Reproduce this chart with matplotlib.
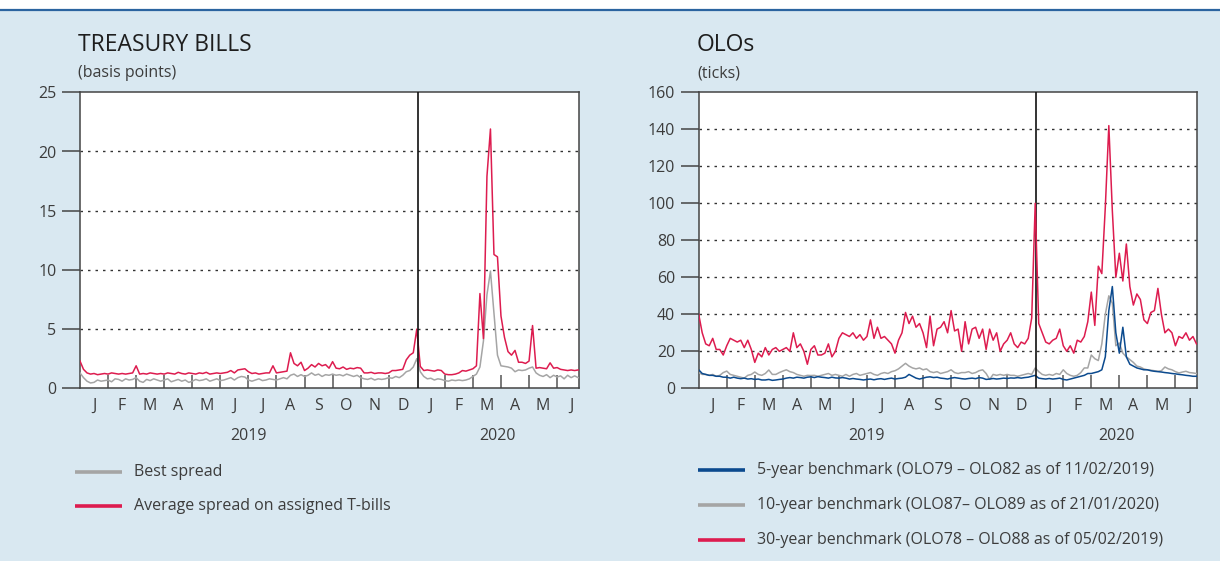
import numpy as np
import matplotlib
matplotlib.use("Agg")
import matplotlib.pyplot as plt
from matplotlib.lines import Line2D
from matplotlib.patches import Rectangle

plt.rcParams['font.family'] = ['Open Sans', 'DejaVu Sans']

# ---------------- data (one value every 1/8 month from Jan 2019) ----------------
STEP = 1 / 8  # months per sample

tbill_best = [
    1.3, 0.9, 0.6, 0.45, 0.5, 0.7, 0.6, 0.65,
    0.7, 0.55, 0.8, 0.75, 0.6, 0.8, 0.7, 0.75,
    0.9, 0.6, 0.5, 0.75, 0.65, 0.8, 0.7, 0.6,
    0.7, 0.8, 0.55, 0.65, 0.75, 0.6, 0.7, 0.5,
    0.6, 0.75, 0.65, 0.7, 0.8, 0.6, 0.7, 0.8,
    0.65, 0.7, 0.8, 0.9, 0.7, 0.9, 1.0, 0.95,
    0.7, 0.6, 0.7, 0.8, 0.65, 0.7, 0.8, 0.75,
    0.7, 0.8, 0.9, 0.8, 1.1, 1.2, 1.0, 1.15,
    1.0, 1.1, 1.3, 1.1, 1.2, 1.0, 1.15, 1.1,
    1.2, 1.1, 1.15, 1.05, 1.2, 1.1, 1.0, 1.1,
    0.9, 0.8, 0.75, 0.85, 0.7, 0.8, 0.75, 0.8,
    0.9, 0.85, 1.0, 0.9, 1.1, 1.4, 1.5, 1.8,
    2.5, 1.4, 1.0, 0.8, 0.85, 0.7, 0.8, 0.75,
    0.65, 0.6, 0.7, 0.65, 0.7, 0.65, 0.7, 0.8,
    1.0, 1.2, 1.8, 4.0, 7.9, 9.9, 6.3, 2.8,
    1.9, 1.85, 1.8, 1.7, 1.4, 1.55, 1.5, 1.55,
    1.7, 1.8, 1.3, 1.1, 1.0, 1.15, 0.9, 1.1,
    0.95, 1.05, 0.8, 1.1, 0.9, 1.05, 0.9,
]

tbill_avg = [
    2.3, 1.6, 1.3, 1.2, 1.25, 1.15, 1.2, 1.25,
    1.2, 1.3, 1.25, 1.2, 1.25, 1.2, 1.25, 1.3,
    1.9, 1.2, 1.25, 1.2, 1.3, 1.25, 1.2, 1.25,
    1.2, 1.3, 1.25, 1.2, 1.35, 1.25, 1.2, 1.3,
    1.25, 1.2, 1.3, 1.25, 1.35, 1.2, 1.25, 1.3,
    1.25, 1.3, 1.35, 1.5, 1.3, 1.55, 1.6, 1.65,
    1.4, 1.25, 1.3, 1.2, 1.25, 1.3, 1.3, 1.9,
    1.3, 1.35, 1.4, 1.45, 3.0, 2.1, 1.9, 2.2,
    1.5, 1.7, 2.0, 1.8, 2.1, 1.9, 2.0, 1.7,
    2.25, 1.7, 1.65, 1.8, 1.6, 1.7, 1.65, 1.75,
    1.7, 1.3, 1.3, 1.35, 1.25, 1.3, 1.3, 1.25,
    1.3, 1.5, 1.5, 1.55, 1.6, 2.4, 2.8, 3.0,
    5.0, 1.85, 1.5, 1.55, 1.5, 1.45, 1.55, 1.5,
    1.2, 1.15, 1.15, 1.2, 1.3, 1.5, 1.45, 1.55,
    1.65, 1.9, 8.0, 4.2, 17.9, 21.9, 11.3, 11.1,
    6.1, 4.3, 3.1, 2.8, 3.2, 2.2, 2.2, 2.1,
    2.3, 5.3, 1.7, 1.75, 1.7, 1.65, 2.15, 1.7,
    1.75, 1.6, 1.55, 1.5, 1.55, 1.5, 1.55,
]

olo_5y = [
    10, 8, 7.5, 7, 7, 6.5, 6.5, 6,
    6, 5.5, 6, 5.5, 5.2, 5.5, 5, 5.2,
    4.8, 5, 4.5, 4.5, 4.8, 4.3, 4.5, 4.8,
    5, 5.5, 5.8, 5.5, 6, 5.8, 5.5, 6,
    6.2, 5.8, 6.3, 6, 5.8, 5.5, 6, 5.6,
    5.5, 5.8, 5.5, 5, 5.3, 5, 4.8, 4.5,
    4.8, 5, 4.6, 5, 5.2, 4.8, 5.2, 5.5,
    5, 5.3, 5.5, 6, 7.5, 6.5, 5.5, 5,
    5.5, 6, 6.2, 5.8, 6, 5.5, 5.3, 5,
    5.5, 5.8, 5.5, 5.2, 5, 5.3, 5.5, 5.2,
    5.8, 5.5, 4.8, 5, 5.3, 5, 5.2, 5.5,
    5.3, 5.6, 5.5, 5.8, 5.5, 5.8, 6, 6.5,
    7, 5.5, 5.2, 5, 5.3, 5, 5.2, 5.5,
    4.8, 4.5, 5, 5.5, 6, 6.5, 7, 8,
    8, 8.5, 9, 10, 17, 42, 55, 30,
    19, 33, 17, 13, 12, 11, 10.5, 10,
    10, 9.5, 9.2, 9, 8.8, 8.5, 8.3, 8,
    7.8, 7.5, 7.3, 7, 6.8, 6.5, 6.5,
]

olo_10y = [
    8.5, 7.5, 7.5, 7, 7.5, 6.5, 7, 8.5,
    9.3, 7.5, 7, 6.5, 6, 5.5, 7, 7.5,
    8.8, 7.5, 7, 8, 9.9, 7.5, 7.5, 8.5,
    9.3, 10, 9, 8.5, 7.5, 7, 6.5, 7,
    6.9, 7, 6.5, 7, 7.5, 8, 7, 7.5,
    7, 6.5, 7.5, 6.5, 7.5, 8, 7, 7.5,
    8, 8.5, 7.5, 7, 8, 8.5, 8, 9,
    9.5, 10.5, 12, 13.5, 12, 11, 10.5, 11,
    10, 10.5, 9, 8.5, 9, 8, 8.5, 9,
    10, 8.5, 8, 8.5, 8.5, 9, 8, 8.5,
    9.5, 10, 8, 4.8, 7.5, 7, 7.5, 7,
    7.5, 7, 7, 6.5, 7, 7.5, 8, 7.5,
    11, 9, 7.5, 7, 7.5, 7, 8, 7.5,
    10, 8, 7, 6.5, 7, 8.5, 11, 11,
    18, 16, 15, 24, 40, 50, 46, 23,
    24.5, 19, 17, 15.5, 14, 12, 11.5, 10.5,
    10, 9.8, 9.5, 9.2, 9.5, 11.5, 10.5, 10,
    9, 8.3, 8.8, 9.2, 8.5, 8.3, 8,
]

olo_30y = [
    40, 30, 24, 23, 27, 21, 21, 18,
    23, 27, 26, 25, 26, 22, 26, 21,
    14, 19, 17, 22, 18, 21, 22, 20,
    21, 22, 20, 30, 22, 24, 20, 13,
    21, 23, 18, 18, 19, 24, 17, 20,
    27, 30, 29, 28, 30, 27, 29, 26,
    28, 37, 27, 33, 27, 28, 26, 24,
    19, 26, 30, 41, 35, 39, 33, 35,
    30, 22, 39, 23, 32, 33, 36, 30,
    42, 31, 32, 20, 36, 24, 32, 33,
    27, 32, 21, 32, 26, 30, 20, 24,
    26, 30, 24, 22, 25, 24, 27, 38,
    100, 35, 30, 25, 24, 26, 27, 32,
    23, 20, 23, 19, 26, 25, 28, 36,
    52, 34, 66, 62, 98, 142, 96, 60,
    73, 58, 78, 55, 45, 51, 48, 37,
    35, 41, 42, 54, 40, 30, 32, 30,
    23, 28, 27, 30, 26, 28, 24,
]

month_labels = ["J", "F", "M", "A", "M", "J", "J", "A", "S", "O", "N", "D",
                "J", "F", "M", "A", "M", "J"]
year_labels = ["2019", "2020"]

left_title = "TREASURY BILLS"
left_unit = "(basis points)"
left_yticks = [0, 5, 10, 15, 20, 25]
left_names = ["Best spread", "Average spread on assigned T-bills"]

right_title = "OLOs"
right_unit = "(ticks)"
right_yticks = [0, 20, 40, 60, 80, 100, 120, 140, 160]
right_names = ["5-year benchmark (OLO79 \u2013 OLO82 as of 11/02/2019)",
               "10-year benchmark (OLO87\u2013 OLO89 as of 21/01/2020)",
               "30-year benchmark (OLO78 \u2013 OLO88 as of 05/02/2019)"]

# ---------------- styling ----------------
BG = "#d9e8f1"
RED = "#dd1c4f"
GRAY = "#a5a5a5"
BLUE = "#0b4a8e"
TXT = "#3c3c3c"
SPINE = "#444444"
W, H = 1220, 561
FS = 11.5

fig = plt.figure(figsize=(W / 100, H / 100), dpi=100)
fig.patch.set_facecolor("white")
fig.add_artist(Rectangle((0, 0), 1, 1 - 11 / H, transform=fig.transFigure,
                         facecolor=BG, edgecolor="none", zorder=-10))
fig.add_artist(Line2D([0, 1], [1 - 10 / H, 1 - 10 / H], transform=fig.transFigure,
                      color="#2b64a0", lw=1.6))

XMAX = 17.78


def px_box(x0, y0, x1, y1):
    return [x0 / W, 1 - y1 / H, (x1 - x0) / W, (y1 - y0) / H]


def style_axis(ax, yticks, ymax):
    ax.set_xlim(0, XMAX)
    ax.set_ylim(0, ymax)
    ax.set_facecolor("white")
    for s in ax.spines.values():
        s.set_color(SPINE)
        s.set_linewidth(1.1)
    # month boundary ticks (inside), skip the year boundary
    bounds = [m for m in range(1, 18) if m != 12]
    ax.set_xticks(bounds)
    ax.set_xticklabels([])
    ax.tick_params(axis="x", which="major", direction="in", length=9.5,
                   width=1.1, color="#555555")
    ax.set_xticks([m + 0.5 for m in range(len(month_labels))], minor=True)
    ax.set_xticklabels(month_labels, minor=True)
    ax.tick_params(axis="x", which="minor", length=0, pad=7, labelsize=FS,
                   labelcolor=TXT)
    ax.set_yticks(yticks)
    ax.set_yticklabels([str(v) for v in yticks])
    ax.tick_params(axis="y", direction="out", length=13, width=1.1,
                   color=SPINE, pad=4, labelsize=FS, labelcolor=TXT)
    for v in yticks[1:-1]:
        ax.axhline(v, color="#333333", lw=1.0, dashes=(1.8, 3.6), zorder=1)
    ax.axvline(12.04, color="#111111", lw=1.2, zorder=5)
    ax.text(6.0, -0.162, year_labels[0], transform=ax.get_xaxis_transform(),
            ha="center", va="center", fontsize=FS, color=TXT)
    ax.text((12 + XMAX) / 2, -0.162, year_labels[1],
            transform=ax.get_xaxis_transform(),
            ha="center", va="center", fontsize=FS, color=TXT)


x = np.arange(len(tbill_avg)) * STEP

# ---------------- left panel ----------------
axl = fig.add_axes(px_box(80, 92.3, 579, 388.3))
style_axis(axl, left_yticks, 25)
axl.plot(x, tbill_best, color=GRAY, lw=1.1, zorder=3)
axl.plot(x, tbill_avg, color=RED, lw=1.1, zorder=4)
fig.text(78 / W, 1 - 45 / H, left_title, fontsize=16.5, color="#1e1e1e",
         ha="left", va="center")
fig.text(78 / W, 1 - 73 / H, left_unit, fontsize=FS, color=TXT,
         ha="left", va="center")

# ---------------- right panel ----------------
x2 = np.arange(len(olo_30y)) * STEP
axr = fig.add_axes(px_box(698.7, 92.3, 1197.3, 388.3))
style_axis(axr, right_yticks, 160)
axr.plot(x2, olo_10y, color=GRAY, lw=1.1, zorder=3)
axr.plot(x2, olo_5y, color=BLUE, lw=1.1, zorder=4)
axr.plot(x2, olo_30y, color=RED, lw=1.1, zorder=5)
fig.text(697 / W, 1 - 45 / H, right_title, fontsize=16.5, color="#1e1e1e",
         ha="left", va="center")
fig.text(697 / W, 1 - 73 / H, right_unit, fontsize=FS, color=TXT,
         ha="left", va="center")

# ---------------- legends ----------------
def legend_row(xl0, xl1, xt, y, color, label):
    fig.add_artist(Line2D([xl0 / W, xl1 / W], [1 - y / H, 1 - y / H],
                          transform=fig.transFigure, color=color, lw=2.6,
                          solid_capstyle="butt"))
    fig.text(xt / W, 1 - y / H, label, fontsize=FS, color=TXT,
             ha="left", va="center")


legend_row(75, 122, 134, 472, GRAY, left_names[0])
legend_row(75, 122, 134, 506, RED, left_names[1])
legend_row(698, 745, 757, 470, BLUE, right_names[0])
legend_row(698, 745, 757, 505, GRAY, right_names[1])
legend_row(698, 745, 757, 540, RED, right_names[2])

fig.savefig("out.png", dpi=100, facecolor=fig.get_facecolor())
